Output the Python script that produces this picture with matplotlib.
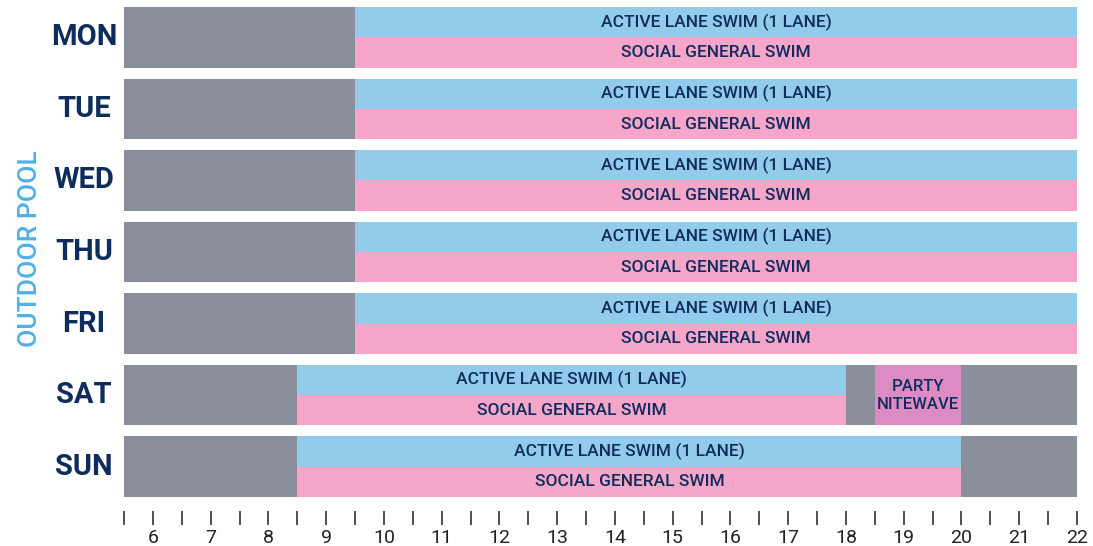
import matplotlib.pyplot as plt
from matplotlib.ticker import MultipleLocator

# Schedule data (hours, 24h clock)
days = ['MON', 'TUE', 'WED', 'THU', 'FRI', 'SAT', 'SUN']
swim_start = [9.5, 9.5, 9.5, 9.5, 9.5, 8.5, 8.5]
swim_end = [22, 22, 22, 22, 22, 18, 20]
party_day = 'SAT'
party_start = 18.5
party_end = 20
day_open = 5.5
day_close = 22
hour_ticks = list(range(6, 23))

GRAY = '#8a8f9b'
BLUE = '#93cbea'
PINK = '#f5a6c9'
PURPLE = '#dc8bc4'
NAVY = '#0f2d5c'
LIGHT = '#4fb0e5'

plt.rcParams['font.family'] = ['Roboto', 'DejaVu Sans']

fig = plt.figure(figsize=(10.93, 5.46), dpi=100)
W, H = 1093, 546
ax = fig.add_axes([124 / W, (H - 497) / H, (1077 - 124) / W, (497 - 7) / H])

h = 0.85
fs = 12.5
for i, day in enumerate(days):
    # closed background for the full day
    ax.barh(i, day_close - day_open, left=day_open, height=h, color=GRAY, linewidth=0)
    s, e = swim_start[i], swim_end[i]
    ax.barh(i - h / 4, e - s, left=s, height=h / 2, color=BLUE, linewidth=0)
    ax.barh(i + h / 4, e - s, left=s, height=h / 2, color=PINK, linewidth=0)
    mid = (s + e) / 2
    ax.text(mid, i - h / 4, 'ACTIVE LANE SWIM (1 LANE)', ha='center', va='center',
            color=NAVY, fontsize=fs, fontweight='medium')
    ax.text(mid, i + h / 4, 'SOCIAL GENERAL SWIM', ha='center', va='center',
            color=NAVY, fontsize=fs, fontweight='medium')
    if day == party_day:
        ax.barh(i, party_end - party_start, left=party_start, height=h, color=PURPLE, linewidth=0)
        ax.text((party_start + party_end) / 2, i, 'PARTY\nNITEWAVE', ha='center', va='center',
                color=NAVY, fontsize=12, fontweight='medium', linespacing=1.25)
    ax.text(4.81, i, day, ha='center', va='center', color=NAVY, fontsize=21,
            fontweight='bold', clip_on=False)

ax.text(-0.099, 0.507, 'OUTDOOR POOL', transform=ax.transAxes, rotation=90,
        ha='center', va='center', color=LIGHT, fontsize=19, fontweight='medium')

ax.set_xlim(day_open, day_close)
ax.set_ylim(len(days) - 1 + h / 2, -h / 2)
ax.set_yticks([])
ax.set_xticks(hour_ticks)
ax.xaxis.set_minor_locator(MultipleLocator(0.5))
ax.tick_params(axis='x', which='both', direction='out', length=10, width=1.2,
               color='#333333', labelsize=14, labelcolor='#222222', pad=3)
for sp in ax.spines.values():
    sp.set_visible(False)
ax.spines['bottom'].set_position(('outward', 10))

fig.savefig('out.png', dpi=100)
